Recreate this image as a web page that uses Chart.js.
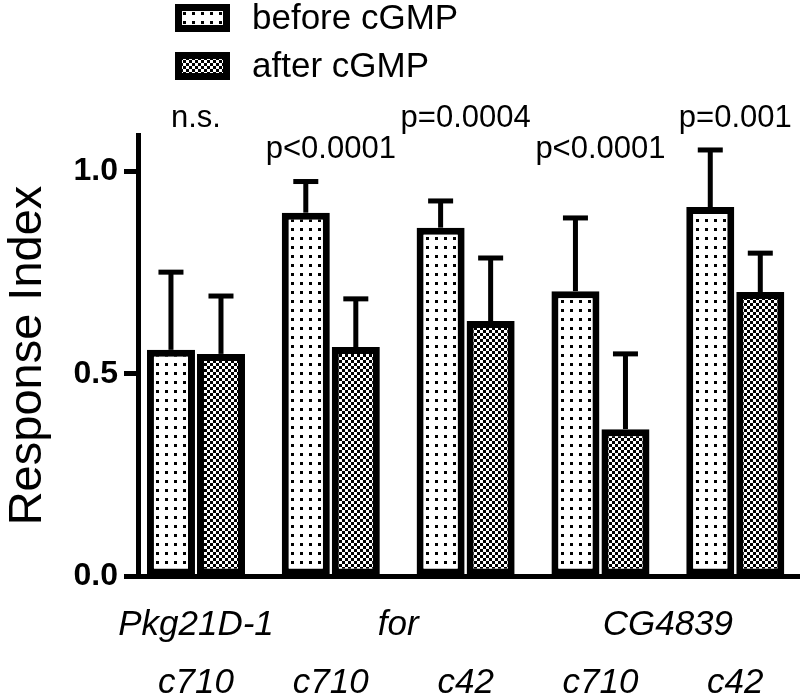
<!DOCTYPE html>
<html>
<head>
<meta charset="utf-8">
<script src="https://cdn.jsdelivr.net/npm/chart.js@4.4.0/dist/chart.umd.min.js"></script>
<style>
    html, body { margin: 0; padding: 0; background: #fff; }
    #wrap { width: 800px; height: 696px; }
</style>
</head>
<body>
<div id="wrap"><canvas id="chart" width="800" height="696"></canvas></div>
<script>
const drivers = ['c710', 'c710', 'c42', 'c710', 'c42'];
const genes = ['Pkg21D-1', 'for', 'CG4839'];
const genePos = [0, 1.5, 3.5];

const before = [0.559, 0.898, 0.861, 0.704, 0.912];
const beforeErr = [0.192, 0.077, 0.066, 0.181, 0.141];
const after = [0.549, 0.566, 0.630, 0.363, 0.702];
const afterErr = [0.143, 0.119, 0.156, 0.186, 0.096];

const pLabels = ['n.s.', 'p<0.0001', 'p=0.0004', 'p<0.0001', 'p=0.001'];
const pLevels = [1.11, 1.033, 1.11, 1.033, 1.11];

const FONT = "'Liberation Sans', Arial, sans-serif";

function makePattern(draw, size) {
    const c = document.createElement('canvas');
    c.width = size;
    c.height = size;
    draw(c.getContext('2d'));
    return c.getContext('2d').createPattern(c, 'repeat');
}

// puntini neri su bianco
const dots = makePattern(g => {
    g.fillStyle = '#fff';
    g.fillRect(0, 0, 9, 9);
    g.fillStyle = '#000';
    g.fillRect(3, 3, 3, 3);
}, 9);

// scacchiera fine
const checks = makePattern(g => {
    g.fillStyle = '#000';
    g.fillRect(0, 0, 6, 6);
    g.fillStyle = '#fff';
    g.fillRect(0, 0, 3, 3);
    g.fillRect(3, 3, 3, 3);
}, 6);

const toPoints = arr => arr.map((v, i) => ({ x: i, y: v }));

const errorBars = {
    id: 'errorBars',
    afterDatasetsDraw(chart) {
        const { ctx, scales: { y } } = chart;
        const errs = [beforeErr, afterErr];
        ctx.save();
        ctx.fillStyle = '#000';
        chart.data.datasets.forEach((ds, d) => {
            chart.getDatasetMeta(d).data.forEach((bar, i) => {
                const top = y.getPixelForValue(ds.data[i].y + errs[d][i]);
                ctx.fillRect(bar.x - 2.5, top, 5, bar.y - top);
                ctx.fillRect(bar.x - 12.5, top - 2.5, 25, 5);
            });
        });
        ctx.restore();
    }
};

const pValues = {
    id: 'pValues',
    afterDraw(chart) {
        const { ctx, scales: { x, y } } = chart;
        ctx.save();
        ctx.fillStyle = '#000';
        ctx.font = '31px ' + FONT;
        ctx.textAlign = 'center';
        ctx.textBaseline = 'alphabetic';
        pLabels.forEach((t, i) => {
            ctx.fillText(t, x.getPixelForValue(i), y.getPixelForValue(pLevels[i]));
        });
        ctx.restore();
    }
};

const patternLegend = {
    id: 'patternLegend',
    afterDraw(chart) {
        const ctx = chart.ctx;
        ctx.save();
        ctx.font = '35px ' + FONT;
        ctx.textBaseline = 'middle';
        chart.data.datasets.forEach((ds, i) => {
            const top = 4 + i * 48;
            ctx.fillStyle = '#000';
            ctx.fillRect(175, top, 55, 28);
            ctx.fillStyle = ds.backgroundColor;
            ctx.fillRect(182, top + 7, 41, 14);
            ctx.fillStyle = '#000';
            ctx.fillText(ds.label, 252, top + 15);
        });
        ctx.restore();
    }
};

new Chart(document.getElementById('chart'), {
    type: 'bar',
    data: {
        datasets: [{
            label: 'before cGMP',
            data: toPoints(before),
            backgroundColor: dots,
            borderColor: '#000',
            borderWidth: 7,
            borderSkipped: false
        }, {
            label: 'after cGMP',
            data: toPoints(after),
            backgroundColor: checks,
            borderColor: '#000',
            borderWidth: 7,
            borderSkipped: false
        }]
    },
    options: {
        responsive: false,
        animation: false,
        devicePixelRatio: 1,
        categoryPercentage: 0.742,
        barPercentage: 0.96,
        layout: { padding: { top: 135, right: 0, bottom: 0, left: 0 } },
        plugins: {
            legend: { display: false },
            tooltip: { enabled: false }
        },
        scales: {
            x: {
                type: 'linear',
                position: 'bottom',
                weight: 1,
                min: -0.43,
                max: 4.48,
                offset: false,
                grid: { display: false, drawTicks: false },
                border: { display: false },
                afterBuildTicks: s => { s.ticks = drivers.map((_, i) => ({ value: i })); },
                afterFit: s => { s.height = 50; },
                ticks: {
                    autoSkip: false,
                    maxRotation: 0,
                    padding: 16,
                    color: '#000',
                    font: { family: FONT, size: 35, style: 'italic', lineHeight: 1.2 },
                    callback: (v, i) => drivers[i]
                }
            },
            gene: {
                type: 'linear',
                position: 'bottom',
                weight: 0,
                min: -0.43,
                max: 4.48,
                offset: false,
                grid: { display: false, drawTicks: false },
                border: { display: true, color: '#000', width: 5 },
                afterBuildTicks: s => { s.ticks = genePos.map(v => ({ value: v })); },
                afterFit: s => { s.height = 70; },
                ticks: {
                    autoSkip: false,
                    maxRotation: 0,
                    padding: 28,
                    color: '#000',
                    font: { family: FONT, size: 35, style: 'italic', lineHeight: 1.2 },
                    callback: (v, i) => genes[i]
                }
            },
            y: {
                min: 0,
                max: 1.09,
                afterBuildTicks: s => { s.ticks = [0, 0.5, 1].map(v => ({ value: v })); },
                afterFit: s => { s.width = 138; },
                grid: {
                    drawOnChartArea: false,
                    drawTicks: true,
                    tickLength: 14,
                    tickWidth: 5,
                    tickColor: '#000'
                },
                border: { display: true, color: '#000', width: 5 },
                ticks: {
                    padding: 6,
                    color: '#000',
                    font: { family: FONT, size: 32, weight: 'bold' },
                    callback: v => v.toFixed(1)
                },
                title: {
                    display: true,
                    text: 'Response Index',
                    color: '#000',
                    padding: 0,
                    font: { family: FONT, size: 47, lineHeight: 1.2 }
                }
            }
        }
    },
    plugins: [errorBars, pValues, patternLegend]
});
</script>
</body>
</html>
